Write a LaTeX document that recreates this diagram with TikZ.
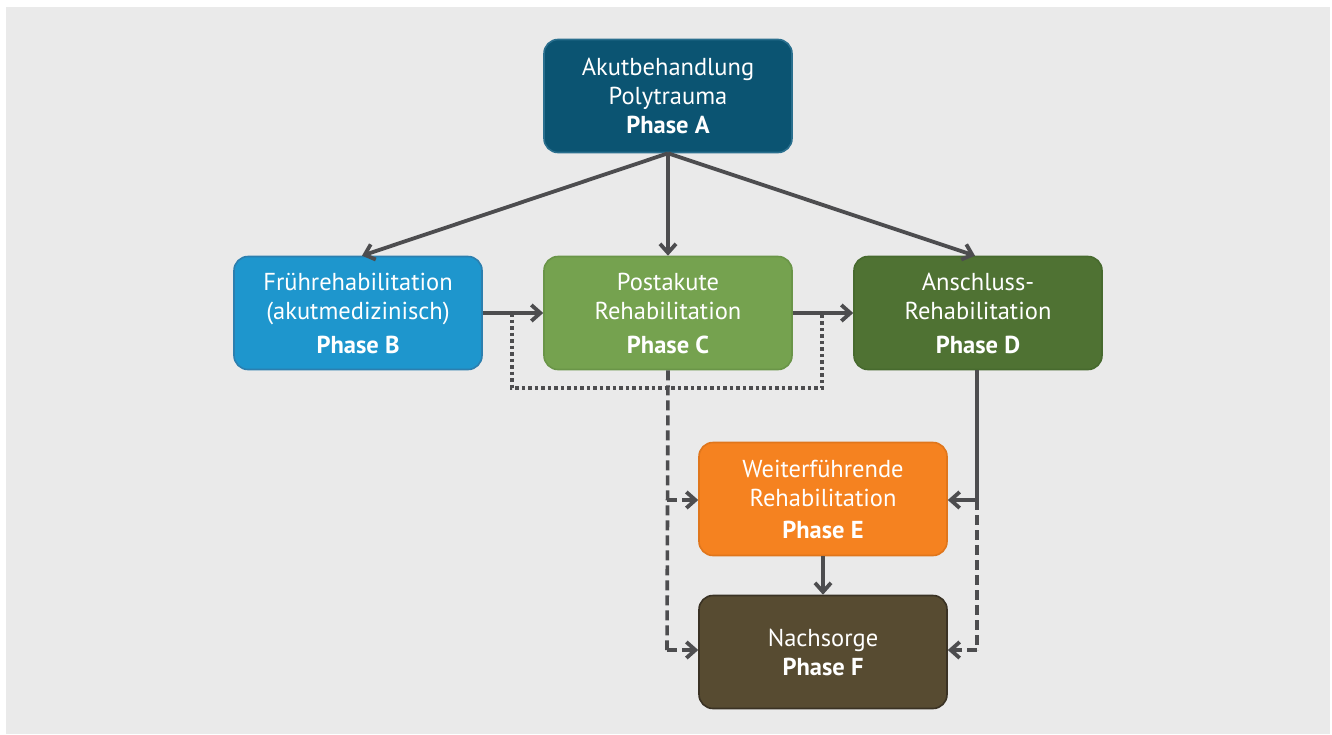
\documentclass[tikz,border=0pt]{standalone}
\usepackage{fontspec}
\setmainfont{PT Sans}
\usetikzlibrary{arrows.meta}
\definecolor{bgc}{HTML}{EAEAEA}
\definecolor{lnc}{HTML}{4D4D4F}
\definecolor{ca}{HTML}{0B5472}
\definecolor{cab}{HTML}{2A6F8E}
\definecolor{cb}{HTML}{1E96CD}
\definecolor{cbb}{HTML}{2C7FAF}
\definecolor{cc}{HTML}{75A24F}
\definecolor{ccb}{HTML}{6A9548}
\definecolor{cd}{HTML}{4F7233}
\definecolor{cdb}{HTML}{476A2E}
\definecolor{ce}{HTML}{F58220}
\definecolor{ceb}{HTML}{E0761C}
\definecolor{cf}{HTML}{574B31}
\definecolor{cfb}{HTML}{3A3224}
\begin{document}
\begin{tikzpicture}[x=1pt,y=-1pt,
  phase/.style={rounded corners=14pt, minimum width=248pt, minimum height=113pt,
    text=white, align=center, font=\fontsize{24.5}{29}\selectfont, line width=1.6pt, inner sep=0pt},
  conn/.style={draw=lnc, line width=3.8pt, -{Straight Barb[length=9pt,width=16pt,line width=3.8pt]}},
  plain/.style={draw=lnc, line width=3.8pt},
  dashln/.style={draw=lnc, line width=3.6pt, dash pattern=on 10pt off 5pt},
  dotln/.style={draw=lnc, line width=3.6pt, dash pattern=on 3.5pt off 3pt},
  dconn/.style={dashln, -{Straight Barb[length=9pt,width=16pt,line width=3.8pt]}}
]
\useasboundingbox (0,0) rectangle (1332,734);
\fill[white] (0,0) rectangle (1332,734);
\fill[bgc] (6,7) rectangle (1330,734);

\node[phase, fill=ca, draw=cab] (A) at (668,96) {Akutbehandlung\\Polytrauma\\[0pt]\textbf{Phase A}};
\node[phase, fill=cb, draw=cbb] (B) at (358,313) {Frührehabilitation\\(akutmedizinisch)\\[5pt]\textbf{Phase B}};
\node[phase, fill=cc, draw=ccb] (C) at (668,313) {Postakute\\Rehabilitation\\[5pt]\textbf{Phase C}};
\node[phase, fill=cd, draw=cdb] (D) at (978,313) {Anschluss-\\Rehabilitation\\[5pt]\textbf{Phase D}};
\node[phase, fill=ce, draw=ceb] (E) at (823,499) {Weiterführende\\Rehabilitation\\[3pt]\textbf{Phase E}};
\node[phase, fill=cf, draw=cfb] (F) at (823,652) {Nachsorge\\\textbf{Phase F}};

% arrows from A
\draw[conn] (A.south) -- (B.north -| 362,0);
\draw[conn] (A.south) -- (C.north);
\draw[conn] (A.south) -- (D.north -| 975,0);

% horizontal arrows
\draw[conn] (B.east) -- (C.west);
\draw[conn] (C.east) -- (D.west);

% dotted loop
\coordinate (p1) at (512,313);
\coordinate (p2) at (512,388);
\coordinate (p3) at (822,388);
\coordinate (p4) at (822,313);
\draw[dotln] (p1) -- (p2) -- (p3) -- (p4);

% dashed from C
\coordinate (c1) at (667,500);
\coordinate (c2) at (667,650);
\draw[dashln] (C.south) -- (c2);
\draw[dconn] (c1) -- (E.west |- c1);
\draw[dconn] (c2) -- (F.west |- c2);

% from D
\coordinate (d1) at (977,500);
\coordinate (d2) at (977,650);
\draw[plain] (D.south -| d1) -- (d1);
\draw[conn] (d1) -- (E.east |- d1);
\draw[dashln] (d1) -- (d2);
\draw[dconn] (d2) -- (F.east |- d2);

% E to F
\draw[conn] (E.south) -- (F.north);
\end{tikzpicture}
\end{document}
